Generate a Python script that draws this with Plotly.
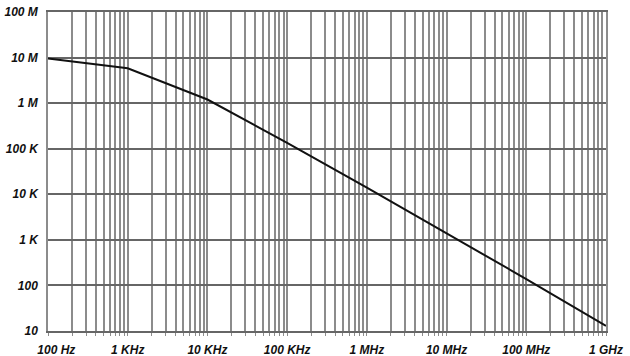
import plotly.graph_objects as go

# Data (frequency in Hz, value)
freq_hz = [1e2, 1e3, 1e4, 1e5, 1e6, 1e7, 1e8, 1e9]
values = [9.5e6, 5.8e6, 1.2e6, 1.35e5, 1.4e4, 1.4e3, 1.38e2, 13]

# Axis tick labels
x_decades = [1e2, 1e3, 1e4, 1e5, 1e6, 1e7, 1e8, 1e9]
x_labels = ["\u00a0\u00a0\u00a0\u00a0\u00a0100 Hz", "1 KHz", "10 KHz", "100 KHz", "1 MHz", "10 MHz", "100 MHz", "1 GHz"]
y_decades = [1e1, 1e2, 1e3, 1e4, 1e5, 1e6, 1e7, 1e8]
y_labels = ["10", "100", "1 K", "10 K", "100 K", "1 M", "10 M", "100 M"]
minor_digits = [1, 2, 3, 4, 5, 6, 7, 8, 9]

# x grid at every 1..9 multiple of each decade, labels only on decades
x_tickvals = []
x_ticktext = []
for d, lab in zip(x_decades, x_labels):
    for m in minor_digits:
        v = d * m
        if v > x_decades[-1] * 1.0001:
            continue
        x_tickvals.append(v)
        x_ticktext.append(lab if m == 1 else "")

VGRID = "#8c8c8c"   # vertical (frequency) grid lines
HGRID = "#666666"   # horizontal (decade) grid lines
tick_font = dict(family="Liberation Sans, Arial, sans-serif", size=12,
                 color="#111111", weight="bold", style="italic")

fig = go.Figure()
fig.add_trace(go.Scatter(x=freq_hz, y=values, mode="lines",
                         line=dict(color="#111111", width=2),
                         showlegend=False, hoverinfo="skip"))

fig.update_layout(
    width=630, height=356,
    margin=dict(l=48, r=24, t=12, b=25),
    paper_bgcolor="white", plot_bgcolor="white",
    xaxis=dict(type="log", range=[2, 9], tickmode="array",
               tickvals=x_tickvals, ticktext=x_ticktext,
               showgrid=True, gridcolor=VGRID, gridwidth=1.5,
               showline=True, linecolor=HGRID, linewidth=1.5, mirror=True,
               ticks="outside", ticklen=3, tickcolor=VGRID,
               ticklabelstandoff=4, automargin=False,
               tickfont=tick_font, zeroline=False),
    yaxis=dict(type="log", range=[1, 8], tickmode="array",
               tickvals=y_decades, ticktext=y_labels,
               showgrid=True, gridcolor=HGRID, gridwidth=1.5,
               showline=True, linecolor=VGRID, linewidth=1.5, mirror=True,
               ticks="", ticklabelstandoff=6, automargin=False,
               tickfont=tick_font, zeroline=False),
)

# remove the page's default 8px body margin so the figure fills the window
fig.write_html("out.html", config={"displayModeBar": False},
               post_script="document.body.style.margin='0';")
